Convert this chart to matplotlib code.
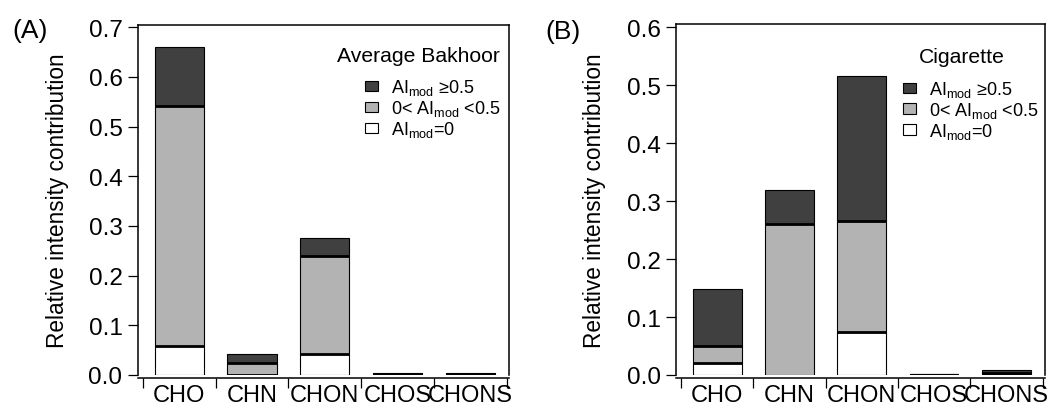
import matplotlib
matplotlib.use('Agg')
from matplotlib import pyplot as plt
from matplotlib.patches import Patch

plt.rcParams['font.family'] = ['Liberation Sans', 'DejaVu Sans']
plt.rcParams['mathtext.default'] = 'regular'

categories = ['CHO', 'CHN', 'CHON', 'CHOS', 'CHONS']

# panel A: Average Bakhoor
a_zero = [0.059, 0.001, 0.042, 0.001, 0.001]
a_mid = [0.483, 0.024, 0.198, 0.002, 0.002]
a_high = [0.119, 0.018, 0.036, 0.002, 0.002]

# panel B: Cigarette
b_zero = [0.020, 0.0, 0.075, 0.0, 0.001]
b_mid = [0.030, 0.260, 0.190, 0.002, 0.003]
b_high = [0.098, 0.060, 0.251, 0.0, 0.004]

legend_labels = ['AI$_{mod}$ \u22650.5', '0< AI$_{mod}$ <0.5', 'AI$_{mod}$=0']
c_zero, c_mid, c_high = 'white', '#b3b3b3', '#404040'

fig = plt.figure(figsize=(10.56, 4.06), dpi=100)


def panel(rect, zero, mid, high, ymax, yticks, title, title_xy, title_ha,
		  leg_xy, ylab_x, letter, letter_xy):
	ax = fig.add_axes(rect)
	x = list(range(len(categories)))
	w = 0.675
	b1 = zero
	b2 = [z + m for z, m in zip(zero, mid)]
	ax.bar(x, zero, w, color=c_zero, edgecolor='black', linewidth=0.8, zorder=2)
	ax.bar(x, mid, w, bottom=b1, color=c_mid, edgecolor='black', linewidth=0.8, zorder=2)
	ax.bar(x, high, w, bottom=b2, color=c_high, edgecolor='black', linewidth=0.8, zorder=2)
	# thicker separators between stacked segments
	for i in x:
		if zero[i] > 0 and mid[i] + high[i] > 0:
			ax.hlines(b1[i], i - w / 2, i + w / 2, color='black', lw=2.0, zorder=3)
		if mid[i] > 0 and high[i] > 0:
			ax.hlines(b2[i], i - w / 2, i + w / 2, color='black', lw=2.0, zorder=3)

	ax.set_xlim(-0.565, 4.53)
	ax.set_ylim(0, ymax)
	ax.set_yticks(yticks)
	ax.set_yticklabels(['%.1f' % t for t in yticks])
	ax.set_xticks([i - 0.5 for i in range(len(categories) + 1)])
	ax.set_xticklabels([])
	ax.set_xticks(x, minor=True)
	ax.set_xticklabels(categories, minor=True)
	ax.tick_params(axis='x', which='major', direction='out', length=7.5, width=0.9)
	ax.tick_params(axis='x', which='minor', length=0, pad=4.5, labelsize=17)
	ax.tick_params(axis='y', direction='out', length=7.2, width=0.9, pad=4, labelsize=17.5)
	for s in ax.spines.values():
		s.set_linewidth(1.1)
	ax.spines['bottom'].set_position(('outward', 2.2))
	ax.spines['left'].set_bounds(0, ymax)
	ax.set_ylabel('Relative intensity contribution', fontsize=16.3)
	ax.yaxis.set_label_coords(ylab_x, 0.5)

	handles = [Patch(facecolor=c, edgecolor='black', linewidth=0.8)
			   for c in (c_high, c_mid, c_zero)]
	ax.legend(handles, legend_labels, loc='upper right', bbox_to_anchor=leg_xy,
			  frameon=False, fontsize=13, handlelength=0.72, handleheight=0.5,
			  handletextpad=0.72, labelspacing=0.05, borderpad=0, borderaxespad=0)
	ax.text(title_xy[0], title_xy[1], title, transform=ax.transAxes,
			ha=title_ha, va='center', fontsize=15.2)
	fig.text(letter_xy[0], letter_xy[1], letter, ha='left', va='center', fontsize=19)
	return ax


panel([138 / 1056, 30 / 406, 371 / 1056, 350 / 406], a_zero, a_mid, a_high,
	  0.7046, [0.0, 0.1, 0.2, 0.3, 0.4, 0.5, 0.6, 0.7],
	  'Average Bakhoor', (0.976, 0.914), 'right', (0.978, 0.850), -0.187,
	  '(A)', (12 / 1056, 1 - 31 / 406))
panel([676.3 / 1056, 30 / 406, 368.4 / 1056, 351 / 406], b_zero, b_mid, b_high,
	  0.6057, [0.0, 0.1, 0.2, 0.3, 0.4, 0.5, 0.6],
	  'Cigarette', (0.7755, 0.907), 'center', (0.982, 0.843), -0.1895,
	  '(B)', (545 / 1056, 1 - 32 / 406))

plt.savefig('out.png', dpi=100)
